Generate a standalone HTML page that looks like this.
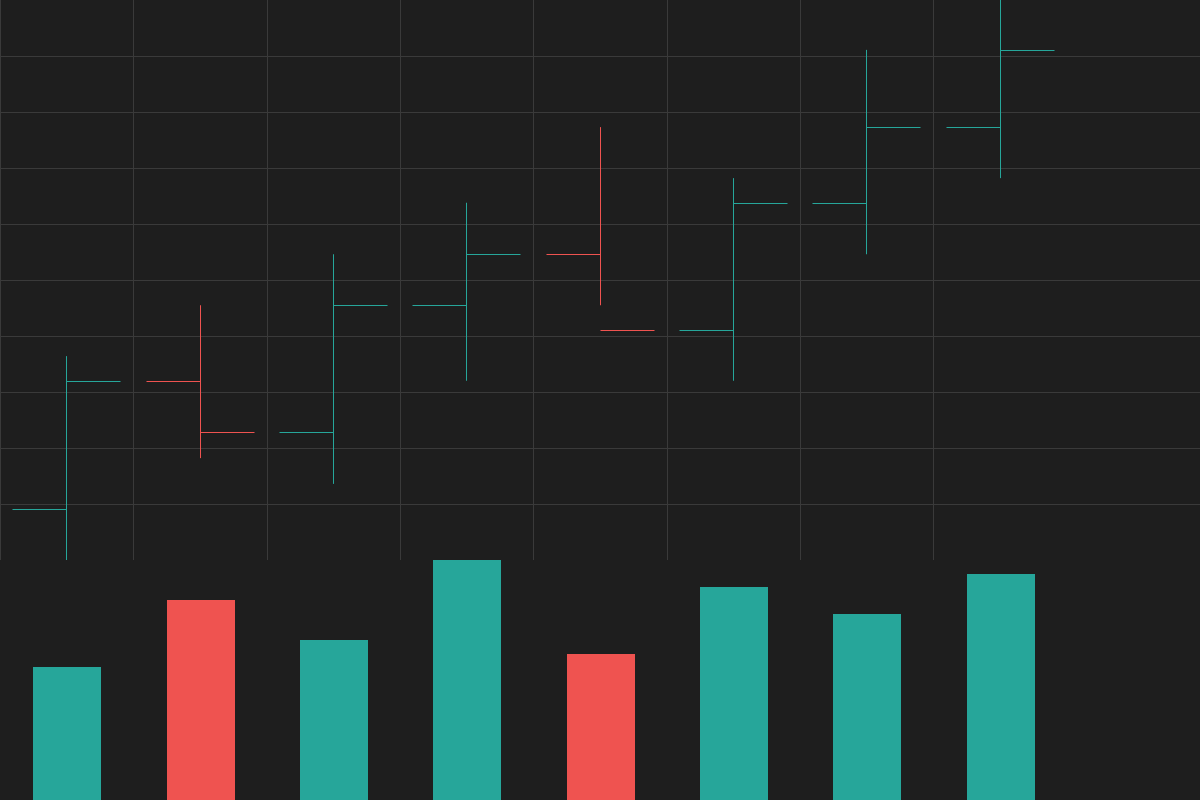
<!DOCTYPE html>
<html><head><meta charset="utf-8"><style>
html,body{margin:0;padding:0;background:#1e1e1e;}
svg{display:block;}
</style></head><body>
<svg id="chart" width="1200" height="800" xmlns="http://www.w3.org/2000/svg">
<rect x="0" y="0" width="1200" height="800" fill="#1e1e1e"/>
<g id="grid"></g>
<g id="ohlc"></g>
<g id="vol"></g>
</svg>
<script>
const categories = [1,2,3,4,5,6,7,8];
const opens  = [109.1,132.0,122.9,145.5,154.6,141.1,163.8,177.3];
const highs  = [136.4,145.5,154.6,163.8,177.3,168.2,191.1,200.0];
const lows   = [100.0,118.2,113.6,132.0,145.5,132.0,154.6,168.2];
const closes = [132.0,122.9,145.5,154.6,141.1,163.8,177.3,191.1];
const volumes = [133,200,160,240,146,213,186,226];
const barColors = ['t','r','t','t','r','t','t','t'];

const C = {t:'#26a69a', r:'#ef5350'};
const NS = 'http://www.w3.org/2000/svg';
const step = 133.3333;
const xPos = i => 66.6667 + i*step;
const yPrice = p => 560 - (p - 100)*5.6;
const yVol = v => 800 - v*(240/240);

function mk(tag, attrs, parent){
  const e = document.createElementNS(NS, tag);
  for (const k in attrs) e.setAttribute(k, attrs[k]);
  parent.appendChild(e);
  return e;
}
const grid = document.getElementById('grid');
for (let k=1;k<=9;k++){
  const l = mk('line',{x1:0,x2:1200,y1:k*56+0.5,y2:k*56+0.5,stroke:'#3a3a3a','stroke-width':1},grid);
  
  
}
for (let k=0;k<8;k++){
  const x = Math.round(k*step)+0.5;
  const l = mk('line',{x1:x,x2:x,y1:0,y2:560,stroke:'#3a3a3a','stroke-width':1},grid);
  
  
}
const og = document.getElementById('ohlc');
const vg = document.getElementById('vol');
categories.forEach((c,i)=>{
  const x = Math.floor(xPos(i)+0.01)+0.5;
  const col = C[barColors[i]];
  const g = mk('g',{},og);
  
  
  mk('line',{x1:x,x2:x,y1:yPrice(highs[i]),y2:yPrice(lows[i]),stroke:col,'stroke-width':1},g);
  const yo = Math.round(yPrice(opens[i]))+0.5;
  mk('line',{x1:x-54,x2:x,y1:yo,y2:yo,stroke:col,'stroke-width':1},g);
  const yc = Math.round(yPrice(closes[i]))+0.5;
  mk('line',{x1:x,x2:x+54,y1:yc,y2:yc,stroke:col,'stroke-width':1},g);
  const top = yVol(volumes[i]);
  const r = mk('rect',{x:x-33.5,y:top,width:68,height:800-top,fill:col},vg);
  
  
});
</script>
</body></html>
